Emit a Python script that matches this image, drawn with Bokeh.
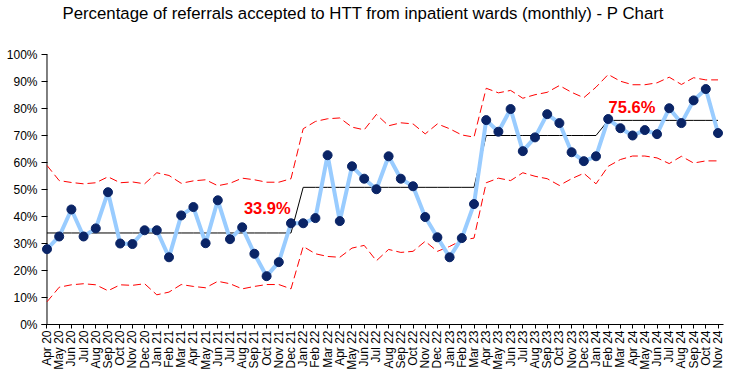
import math
from bokeh.plotting import figure
from bokeh.models import FixedTicker, PrintfTickFormatter, Label, Range1d, ColumnDataSource, Title
from bokeh.embed import file_html
from bokeh.resources import INLINE

chart_title = "Percentage of referrals accepted to HTT from inpatient wards (monthly) - P Chart"

months = ["Apr 20", "May 20", "Jun 20", "Jul 20", "Aug 20", "Sep 20", "Oct 20", "Nov 20", "Dec 20",
          "Jan 21", "Feb 21", "Mar 21", "Apr 21", "May 21", "Jun 21", "Jul 21", "Aug 21", "Sep 21",
          "Oct 21", "Nov 21", "Dec 21",
          "Jan 22", "Feb 22", "Mar 22", "Apr 22", "May 22", "Jun 22", "Jul 22", "Aug 22", "Sep 22",
          "Oct 22", "Nov 22", "Dec 22",
          "Jan 23", "Feb 23", "Mar 23", "Apr 23", "May 23", "Jun 23", "Jul 23", "Aug 23", "Sep 23",
          "Oct 23", "Nov 23", "Dec 23",
          "Jan 24", "Feb 24", "Mar 24", "Apr 24", "May 24", "Jun 24", "Jul 24", "Aug 24", "Sep 24",
          "Oct 24", "Nov 24"]

pct_accepted = [27.9, 32.6, 42.6, 32.6, 35.6, 49.0, 30.0, 29.8, 34.9, 34.9, 24.9, 40.4, 43.5, 30.1,
                46.0, 31.6, 36.0, 26.2, 17.9, 23.1, 37.5,
                37.5, 39.4, 62.7, 38.3, 58.6, 54.0, 50.1, 62.3, 54.0, 51.2, 39.8, 32.3, 24.9, 32.0, 44.6,
                75.7, 71.4, 79.8, 64.2, 69.3, 77.9, 74.6, 63.8, 60.5, 62.3,
                76.1, 72.7, 70.0, 72.0, 70.5, 80.1, 74.6, 83.0, 87.2, 70.9]

centre_phases = [33.9, 50.8, 70.0, 75.6]
phase_lengths = [21, 15, 10, 10]

ucl = [58.9, 53.3, 52.6, 52.1, 52.5, 54.7, 52.5, 52.8, 52.1, 56.2, 55.2, 52.3, 53.2, 53.6, 51.4,
       52.3, 54.2, 53.6, 52.7, 52.7, 54.0,
       72.5, 75.2, 76.2, 76.5, 73.1, 72.1, 77.8, 73.6, 74.7, 74.3, 70.6, 74.3, 72.5, 70.2, 69.4,
       87.5, 85.8, 86.7, 83.8, 85.1, 86.0, 88.5, 86.0, 84.0, 87.9,
       92.6, 90.1, 88.8, 88.8, 89.5, 91.6, 88.9, 91.4, 90.6, 90.6]

lcl = [8.4, 13.8, 14.7, 15.1, 14.7, 12.5, 14.7, 14.5, 15.1, 11.0, 12.0, 14.8, 14.1, 13.6, 16.0,
       15.1, 13.2, 14.1, 14.8, 14.8, 13.2,
       28.9, 26.2, 25.2, 24.9, 28.3, 29.3, 23.6, 27.8, 26.7, 27.1, 30.8, 27.1, 28.9, 31.2, 32.0,
       52.5, 54.2, 53.3, 56.2, 54.9, 54.0, 51.5, 54.0, 56.0, 52.1,
       58.6, 61.1, 62.4, 62.4, 61.7, 59.6, 62.3, 59.8, 60.6, 60.6]

y_ticks = [0, 10, 20, 30, 40, 50, 60, 70, 80, 90, 100]

centre = []
for c, n in zip(centre_phases, phase_lengths):
    centre += [c] * n

idx = list(range(len(months)))
src = ColumnDataSource(dict(x=idx, pct=pct_accepted, ucl=ucl, lcl=lcl, centre=centre))

FONT = "Liberation Sans"

p = figure(width=732, height=384, output_backend="svg", toolbar_location=None,
           x_range=Range1d(-0.45, len(months) - 1 + 0.45), y_range=Range1d(y_ticks[0], y_ticks[-1]),
           min_border_left=41, min_border_right=9, min_border_top=54, min_border_bottom=60)

# spacer (closest to the frame) and then the real title above it
p.add_layout(Title(text=" ", text_font=FONT, text_font_size="27px", standoff=0), "above")
p.add_layout(Title(text=chart_title, text_font=FONT, text_font_size="16.8px",
                   text_font_style="normal", text_color="black", align="left", offset=21,
                   standoff=0), "above")

p.grid.visible = False
p.outline_line_color = None
p.background_fill_color = "white"
p.border_fill_color = "white"

# y axis
p.yaxis.ticker = FixedTicker(ticks=y_ticks)
p.yaxis.formatter = PrintfTickFormatter(format="%d%%")
p.yaxis.axis_line_color = None
p.yaxis.major_tick_in = 6
p.yaxis.major_tick_out = 0
p.yaxis.minor_tick_line_color = None
p.yaxis.major_tick_line_color = "black"
p.yaxis.major_label_standoff = 4
p.yaxis.major_label_text_font = FONT
p.yaxis.major_label_text_font_size = "12px"
p.yaxis.major_label_text_color = "black"

# x axis
p.xaxis.ticker = FixedTicker(ticks=idx)
p.xaxis.major_label_overrides = {i: m for i, m in zip(idx, months)}
p.xaxis.major_label_orientation = math.pi / 2
p.xaxis.axis_line_color = "black"
p.xaxis.major_tick_line_color = "black"
p.xaxis.major_tick_in = 0
p.xaxis.major_tick_out = 4
p.xaxis.minor_tick_line_color = None
p.xaxis.major_label_standoff = 2
p.xaxis.major_label_text_font = FONT
p.xaxis.major_label_text_font_size = "12px"
p.xaxis.major_label_text_color = "black"

# vertical axis line at the first category
p.segment(x0=[idx[0]], y0=[y_ticks[0]], x1=[idx[0]], y1=[y_ticks[-1]], line_color="black", line_width=1)

p.line("x", "ucl", source=src, line_color="#FF0000", line_width=1, line_dash="8 4")
p.line("x", "lcl", source=src, line_color="#FF0000", line_width=1, line_dash="8 4")
p.line("x", "centre", source=src, line_color="black", line_width=1)
p.line("x", "pct", source=src, line_color="#99CCFF", line_width=4)
p.scatter("x", "pct", source=src, size=9, fill_color="#0A2466", line_color="#0A2466")

p.add_layout(Label(x=18.06, y=43.0, text="%.1f%%" % centre_phases[0], text_align="center",
                   text_baseline="middle", text_font=FONT, text_font_size="16.5px",
                   text_font_style="bold", text_color="#FF0000"))
p.add_layout(Label(x=47.95, y=80.7, text="%.1f%%" % centre_phases[3], text_align="center",
                   text_baseline="middle", text_font=FONT, text_font_size="16.5px",
                   text_font_style="bold", text_color="#FF0000"))

open("out.html", "w").write(file_html(p, INLINE))
